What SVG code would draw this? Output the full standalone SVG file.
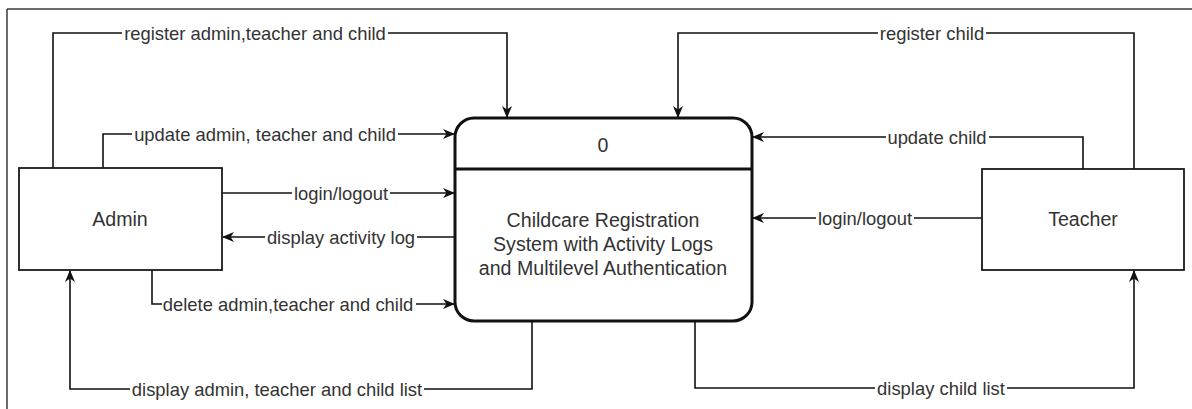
<svg xmlns="http://www.w3.org/2000/svg" width="1192" height="409" viewBox="0 0 1192 409">
  <style>
    .frame { fill: none; stroke: #3a3a3a; stroke-width: 1.5; }
    .entity { fill: #fff; stroke: #1a1a1a; stroke-width: 1.8; }
    .process { fill: #fff; stroke: #111; stroke-width: 3; }
    .node-text { font-family: "Liberation Sans", Arial, sans-serif; font-size: 19.6px; fill: #333; text-anchor: middle; }
    .flow { fill: none; stroke: #111; stroke-width: 1.6; marker-end: url(#arrow); }
    .lbl-bg { fill: #fff; }
    .lbl { font-family: "Liberation Sans", Arial, sans-serif; font-size: 18.4px; fill: #333; text-anchor: middle; }
  </style>
  <defs>
    <marker id="arrow" viewBox="0 0 12 10" refX="11" refY="5" markerWidth="12" markerHeight="10" markerUnits="userSpaceOnUse" orient="auto">
      <path d="M0,0 L12,5 L0,10 L3.5,5 Z" fill="#111"/>
    </marker>
  </defs>

  <!-- page border -->
  <line class="frame" x1="7" y1="9" x2="1192" y2="9"/>
  <line class="frame" x1="7" y1="9" x2="7" y2="409" stroke="#000"/>

  <!-- data flows -->
  <g id="connectors">
    <path class="flow" d="M53,168 V33 H507 V117"/>
    <path class="flow" d="M103,168 V134 H454"/>
    <path class="flow" d="M222,193 H454"/>
    <path class="flow" d="M455,237 H223"/>
    <path class="flow" d="M152,270 V304 H454"/>
    <path class="flow" d="M532,321 V389 H70 V271"/>
    <path class="flow" d="M1134,169 V33 H678 V117"/>
    <path class="flow" d="M1083,169 V137 H753"/>
    <path class="flow" d="M982,218 H753"/>
    <path class="flow" d="M695,321 V388 H1134 V271"/>

    <g id="flow-labels">
      <rect class="lbl-bg" x="122" y="26" width="266" height="15"/>
      <text class="lbl" x="255" y="39.5">register admin,teacher and child</text>

      <rect class="lbl-bg" x="132" y="127" width="266" height="15"/>
      <text class="lbl" x="265" y="140.5">update admin, teacher and child</text>

      <rect class="lbl-bg" x="292" y="186" width="98" height="15"/>
      <text class="lbl" x="341" y="199.5">login/logout</text>

      <rect class="lbl-bg" x="265" y="230" width="152" height="15"/>
      <text class="lbl" x="341" y="243.5">display activity log</text>

      <rect class="lbl-bg" x="162" y="297" width="254" height="15"/>
      <text class="lbl" x="288" y="310.5">delete admin,teacher and child</text>

      <rect class="lbl-bg" x="130" y="382" width="294" height="15"/>
      <text class="lbl" x="277" y="395.5">display admin, teacher and child list</text>

      <rect class="lbl-bg" x="878" y="26" width="108" height="15"/>
      <text class="lbl" x="932" y="39.5">register child</text>

      <rect class="lbl-bg" x="886" y="130" width="103" height="15"/>
      <text class="lbl" x="937" y="143.5">update child</text>

      <rect class="lbl-bg" x="816" y="211" width="98" height="15"/>
      <text class="lbl" x="865" y="224.5">login/logout</text>

      <rect class="lbl-bg" x="875" y="381" width="132" height="15"/>
      <text class="lbl" x="941" y="394.5">display child list</text>
    </g>
  </g>

  <!-- external entity: Admin -->
  <g id="admin">
    <rect class="entity" x="19" y="168" width="203" height="102"/>
    <text class="node-text" x="120" y="226">Admin</text>
  </g>

  <!-- external entity: Teacher -->
  <g id="teacher">
    <rect class="entity" x="982" y="169" width="202" height="101"/>
    <text class="node-text" x="1083" y="226">Teacher</text>
  </g>

  <!-- process 0 -->
  <g id="process-0">
    <rect class="process" x="455" y="118" width="297" height="203" rx="19" ry="19"/>
    <line x1="455" y1="169" x2="752" y2="169" stroke="#111" stroke-width="3"/>
    <text class="node-text" x="603" y="152">0</text>
    <text class="node-text" x="603" y="227">Childcare Registration</text>
    <text class="node-text" x="603" y="251">System with Activity Logs</text>
    <text class="node-text" x="603" y="275">and Multilevel Authentication</text>
  </g>
</svg>
